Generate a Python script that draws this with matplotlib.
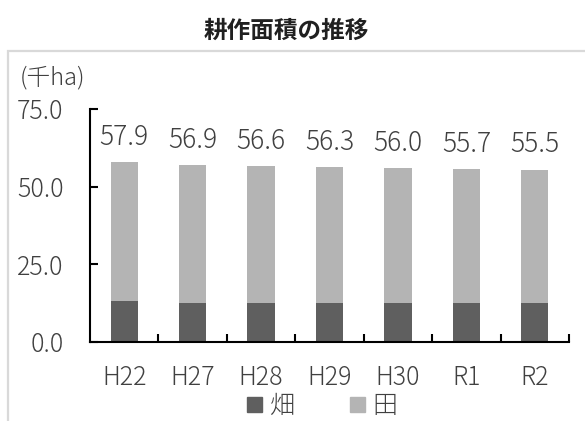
import matplotlib.pyplot as plt
from matplotlib.patches import Rectangle, Patch

plt.rcParams['font.family'] = ['Noto Sans CJK JP', 'DejaVu Sans']
plt.rcParams['font.weight'] = 'light'

# 耕作面積 (千ha)
years = ['H22', 'H27', 'H28', 'H29', 'H30', 'R1', 'R2']
totals = [57.9, 56.9, 56.6, 56.3, 56.0, 55.7, 55.5]
hatake = [13.3, 12.7, 12.7, 12.7, 12.7, 12.7, 12.6]
ta = [t - h for t, h in zip(totals, hatake)]

c_hatake = '#5f5f5f'
c_ta = '#b4b4b4'

fig = plt.figure(figsize=(5.85, 4.21), dpi=100)
W, H = 585, 421

# outer frame (light grey)
fig.patches.append(Rectangle((8 / W, -0.2), 1.2, 1.2 - 51 / H,
                             transform=fig.transFigure, fill=False,
                             edgecolor='#d9d9d9', linewidth=1.6))

ax = fig.add_axes([90 / W, 1 - 342 / H, (569 - 90) / W, (342 - 109) / H])

x = list(range(len(years)))
ax.bar(x, hatake, width=0.4, color=c_hatake, label='畑')
ax.bar(x, ta, width=0.4, bottom=hatake, color=c_ta, label='田')

for xi, t in zip(x, totals):
    ax.annotate(f'{t:.1f}', (xi, t), xytext=(0, 8), textcoords='offset points',
                ha='center', va='bottom', fontsize=19, color='#404040')

ax.set_xlim(-0.5, len(years) - 0.5)
ax.set_ylim(0, 75)
ax.set_yticks([0, 25, 50, 75])
ax.set_yticklabels(['0.0', '25.0', '50.0', '75.0'])

# ticks at category boundaries, labels at centers
ax.set_xticks([i + 0.5 for i in range(len(years))])
ax.set_xticklabels([])
ax.set_xticks(x, minor=True)
ax.set_xticklabels(years, minor=True)
ax.tick_params(axis='x', which='major', direction='in', length=6, width=1.5)
ax.tick_params(axis='x', which='minor', length=0, pad=16, labelsize=18, labelcolor='#404040')
ax.tick_params(axis='y', direction='in', length=6, width=1.5, pad=19,
               labelsize=18, labelcolor='#404040')

for s in ['top', 'right']:
    ax.spines[s].set_visible(False)
for s in ['left', 'bottom']:
    ax.spines[s].set_linewidth(1.5)
    ax.spines[s].set_color('black')

fig.text(20 / W, 1 - 78 / H, '(千ha)', ha='left', va='center', fontsize=17, color='#404040')
fig.text(286 / W, 1 - 31 / H, '耕作面積の推移', ha='center', va='center',
         fontsize=17, fontweight='bold', color='#202020')

handles = [Patch(color=c_hatake, label='畑'), Patch(color=c_ta, label='田')]
fig.legend(handles=handles, ncol=2, loc='center',
           bbox_to_anchor=(322 / W, 1 - 406 / H), frameon=False,
           fontsize=18, handlelength=0.6, handleheight=0.6,
           handletextpad=0.3, columnspacing=2.2, labelcolor='#404040')

fig.savefig('out.png', dpi=100)
